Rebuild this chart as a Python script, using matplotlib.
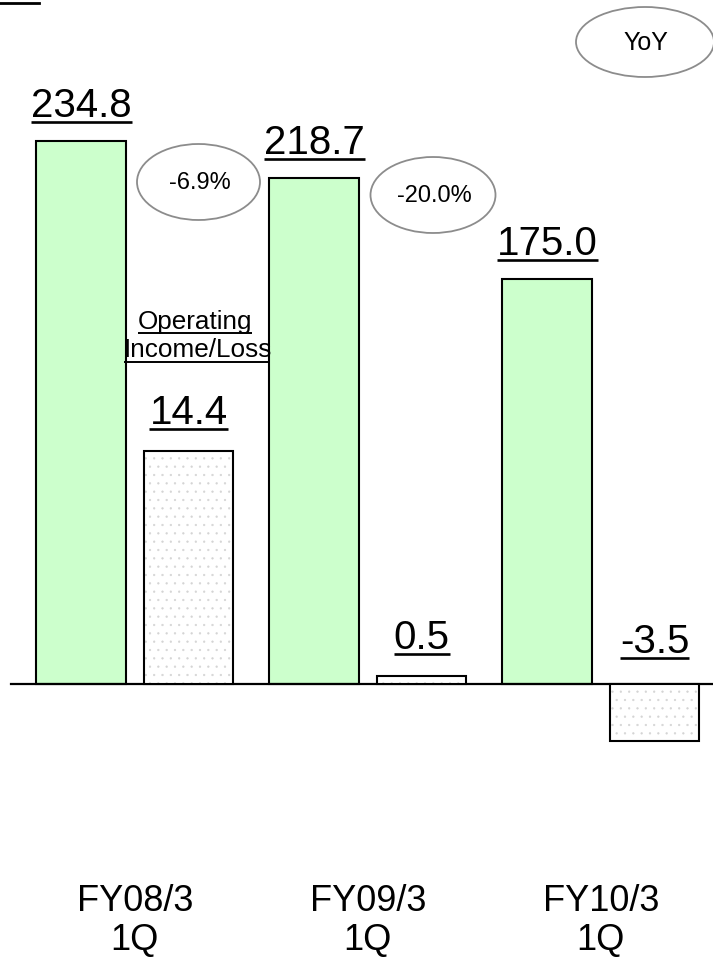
import matplotlib
matplotlib.use("Agg")
import matplotlib.pyplot as plt
from matplotlib.patches import Ellipse
from matplotlib.lines import Line2D

plt.rcParams['font.family'] = ['Liberation Sans', 'DejaVu Sans']
plt.rcParams['hatch.linewidth'] = 0.4

# Quarterly results (billions of yen)
periods = ["FY08/3", "FY09/3", "FY10/3"]
quarter = ["1Q", "1Q", "1Q"]
net_sales = [234.8, 218.7, 175.0]
operating_income = [14.4, 0.5, -3.5]
yoy_labels = ["-6.9%", "-20.0%"]

W, H, DPI = 713, 959, 100
fig = plt.figure(figsize=(W / DPI, H / DPI), dpi=DPI)
fig.patch.set_facecolor("white")

ax = fig.add_axes([0, 0, 1, 1])
ax2 = ax.twinx()
for a in (ax, ax2):
    a.set_axis_off()

n = len(periods)
xs = list(range(n))
offset = 0.23
width = 0.386
sales_x = [x - offset for x in xs]
oi_x = [x + offset for x in xs]

ax.set_xlim(-0.579, 2.481)
ax.set_ylim(-118.9, 295.8)
ax2.set_ylim(-16.98, 42.22)

green = "#CCFFCC"
ax.bar(sales_x, net_sales, width, color=green, edgecolor="black", linewidth=1.5, zorder=3)

# dotted fill for operating income, then black outline on top
ax2.bar(oi_x, operating_income, width, color="white", edgecolor="#D4D4D4",
        hatch="..", linewidth=0, zorder=2)
ax2.bar(oi_x, operating_income, width, color="none", edgecolor="black",
        linewidth=1.5, zorder=3)

ax.axhline(0, xmin=11 / W, xmax=1, color="black", linewidth=1.6, zorder=4)

value_fs = 29
labels = []  # (text artist, baseline y in display px)


def add_value(axis, x, v, shown, gap):
    anchor = max(v, 0)
    t = axis.annotate(shown, xy=(x, anchor), xytext=(0, gap), textcoords="offset pixels",
                      ha="center", va="baseline", fontsize=value_fs, color="black", zorder=5)
    base = axis.transData.transform((x, anchor))[1] + gap
    labels.append((t, base))


for x, v in zip(sales_x, net_sales):
    add_value(ax, x, v, f"{v:.1f}", 24)
for x, v in zip(oi_x, operating_income):
    add_value(ax2, x, v, f"{v:.1f}", 27 if v >= 0 else 31)

# category labels under the baseline
for x, p, q in zip(xs, periods, quarter):
    ax.annotate(p, xy=(x, 0), xytext=(0, -227), textcoords="offset pixels",
                ha="center", va="baseline", fontsize=26)
    ax.annotate(q, xy=(x, 0), xytext=(0, -266), textcoords="offset pixels",
                ha="center", va="baseline", fontsize=26)


def fx(px):
    return px / W


def fy(py):
    return 1 - py / H


# "Operating Income/Loss" caption
t1 = fig.text(fx(195), fy(329), "Operating", ha="center", va="baseline", fontsize=18.8)
t2 = fig.text(fx(198), fy(357), "Income/Loss", ha="center", va="baseline", fontsize=18.8)

# YoY ovals
ovals = [(198.5, 182, 123, 76, yoy_labels[0], 17),
         (433, 195, 125, 76, yoy_labels[1], 17),
         (645, 42, 138, 70, "YoY", 18)]
for cx, cy, w, h, s, fs in ovals:
    e = Ellipse((fx(cx), fy(cy)), w / W, h / H, transform=fig.transFigure,
                facecolor="white", edgecolor="#8C8C8C", linewidth=1.3, zorder=6)
    fig.add_artist(e)
    fig.text(fx(cx + 1), fy(cy + 1), s, ha="center", va="center", fontsize=fs, zorder=7)

# small rule at the top-left corner
fig.add_artist(Line2D([fx(0), fx(39)], [fy(3), fy(3)], transform=fig.transFigure,
                      color="black", linewidth=2))

fig.canvas.draw()
renderer = fig.canvas.get_renderer()


def underline(t, base_disp, drop, lw, x0=None, x1=None):
    bb = t.get_window_extent(renderer)
    a = bb.x0 if x0 is None else x0
    b = bb.x1 if x1 is None else x1
    y = (base_disp - drop) / H
    fig.add_artist(Line2D([a / W, b / W], [y, y], transform=fig.transFigure,
                          color="black", linewidth=lw, solid_capstyle="butt"))


for t, base in labels:
    underline(t, base, 5, 1.9)

underline(t1, H - 329, 4, 1.4)
underline(t2, H - 357, 5, 1.4, x1=270)

fig.savefig("out.png", dpi=DPI, facecolor="white")
